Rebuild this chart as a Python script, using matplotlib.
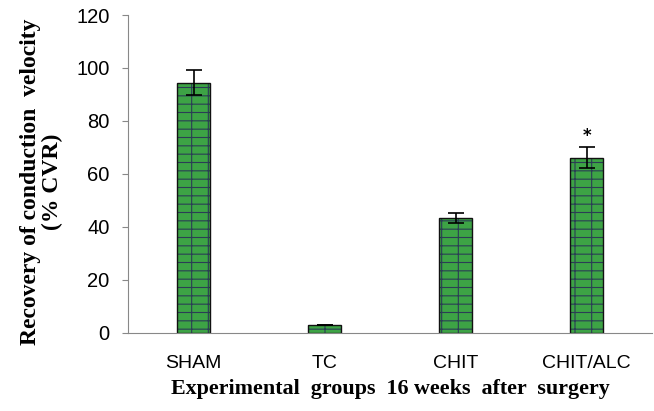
import matplotlib
matplotlib.use('Agg')
import matplotlib.pyplot as plt
import numpy as np

# data
groups = ['SHAM', 'TC', 'CHIT', 'CHIT/ALC']
cvr = [94.5, 3, 43.4, 66.2]
err = [4.7, 0, 2.0, 3.8]
star_y = 74.5

fig = plt.figure(figsize=(6.54, 4.11), dpi=100)
ax = fig.add_axes([0.196, 0.19, 0.801, 0.7735])

x = np.arange(len(groups))
# brick fill: green body with dark mortar hatch, then black outline on top
plt.rcParams['hatch.linewidth'] = 0.8
ax.bar(x, cvr, width=0.25, color='#3da345', edgecolor='#2b3d55', hatch='+-', linewidth=0)
ax.bar(x, cvr, width=0.25, fill=False, edgecolor='#111111', linewidth=1.0)
ax.errorbar(x, cvr, yerr=err, fmt='none', ecolor='black', elinewidth=1.2, capsize=6, capthick=1.2)
ax.text(x[3], star_y, '*', ha='center', va='center', fontsize=12, fontweight='bold')

ax.set_xlim(-0.5, 3.5)
ax.set_ylim(0, 120)
ax.set_yticks(range(0, 121, 20))
ax.set_xticks(x)
ax.set_xticklabels(groups, fontsize=14, family='Liberation Sans')
for lab in ax.get_yticklabels():
    lab.set_fontsize(14.5)
    lab.set_family('Liberation Sans')
ax.tick_params(axis='x', length=0, pad=16)
ax.tick_params(axis='y', length=4.5, color='#888888', pad=9)
for s in ['top', 'right']:
    ax.spines[s].set_visible(False)
ax.spines['left'].set_color('#888888')
ax.spines['bottom'].set_color('#888888')

ax.set_xlabel('Experimental  groups  16 weeks  after  surgery', family='Liberation Serif',
              fontweight='bold', fontsize=15.8, labelpad=5)
ax.set_ylabel('Recovery of conduction  velocity\n(% CVR)', family='Liberation Serif',
              fontweight='bold', fontsize=17, linespacing=1.05)
ax.yaxis.set_label_coords(-0.124, 0.475)

fig.savefig('out.png', dpi=100)
